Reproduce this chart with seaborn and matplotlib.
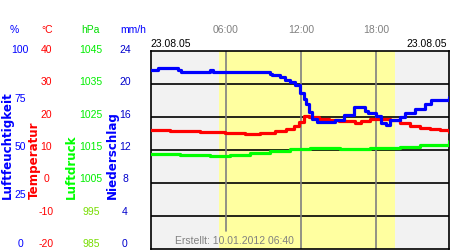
import matplotlib
matplotlib.use("Agg")
import matplotlib.pyplot as plt
import seaborn as sns
import pandas as pd
import numpy as np

sns.set_theme(style="white")
plt.rcParams['font.family'] = ['Liberation Sans', 'DejaVu Sans']

# ---- data (hours of day) ----
hum_t = [0.0, 0.4, 0.6, 2.2, 2.4, 4.7, 5.0, 7.4, 9.5, 9.7, 10.3, 10.7, 11.1, 11.5, 11.9,
         12.2, 12.4, 12.6, 12.9, 13.3, 14.0, 14.7, 15.4, 16.2, 16.9, 17.1, 17.3, 18.0,
         18.4, 18.8, 19.1, 19.9, 20.3, 21.1, 21.9, 22.4, 23.1, 23.8]
hum_v = [90.5, 90.5, 91.5, 90.5, 89.5, 90.5, 89.4, 89.4, 88.4, 87.9, 86.7, 85.4, 84.3,
         82.6, 78.6, 76.0, 73.0, 69.2, 65.6, 64.2, 64.2, 65.2, 67.7, 71.7, 71.7, 69.7,
         68.7, 67.2, 63.6, 62.6, 65.2, 66.7, 68.7, 70.7, 73.2, 75.2, 75.2, 76.8]
tmp_t = [0.0, 1.5, 3.9, 5.9, 7.5, 8.7, 9.9, 10.8, 11.4, 11.8, 12.2, 12.6, 13.4, 14.2,
         15.0, 16.3, 16.8, 17.5, 18.3, 19.1, 19.9, 20.7, 21.5, 22.3, 23.1, 23.8]
tmp_v = [16.0, 15.8, 15.5, 15.2, 15.0, 15.3, 15.8, 16.4, 17.3, 18.5, 20.3, 20.0, 19.4,
         19.1, 18.8, 18.3, 18.8, 19.4, 19.4, 19.1, 18.2, 17.3, 16.7, 16.4, 16.1, 15.5]
prs_t = [0.0, 2.3, 4.7, 6.3, 7.9, 9.5, 11.1, 12.7, 15.1, 17.5, 19.9, 21.5, 23.8]
prs_v = [1013.8, 1013.5, 1013.3, 1013.6, 1014.1, 1014.8, 1015.3, 1015.5, 1015.3,
         1015.5, 1015.8, 1016.4, 1017.6]

hum_ticks = [100, 75, 50, 25, 0]
tmp_ticks = [40, 30, 20, 10, 0, -10, -20]
prs_ticks = [1045, 1035, 1025, 1015, 1005, 995, 985]
pre_ticks = [24, 20, 16, 12, 8, 4, 0]
time_ticks = [6, 12, 18]
time_labels = ["06:00", "12:00", "18:00"]
date_label = "23.08.05"
sunrise, sunset = 5.47, 19.47

# map all to temperature scale (-20..40)
def hum2t(v): return -20 + np.asarray(v) * 0.6
def prs2t(v): return -20 + (np.asarray(v) - 985)

df = pd.concat([
    pd.DataFrame({"t": hum_t, "y": hum2t(hum_v), "s": "hum"}),
    pd.DataFrame({"t": tmp_t, "y": tmp_v, "s": "tmp"}),
    pd.DataFrame({"t": prs_t, "y": prs2t(prs_v), "s": "prs"}),
])

W, H = 450, 250
fig = plt.figure(figsize=(4.5, 2.5), dpi=100)
L, R, T, B = 150.7, 449, 51, 249
ax = fig.add_axes([L / W, 1 - B / H, (R - L) / W, (B - T) / H])
ax.set_facecolor("#F2F2F2")
ax.set_xlim(0, 23.8)
ax.set_ylim(-20, 40)
ax.axvspan(sunrise, sunset, color="#FFFFA0", zorder=0, lw=0)
for yv in [-10, 0, 10, 20, 30]:
    ax.axhline(yv, color="black", lw=1.2, zorder=1)
for i, tv in enumerate(time_ticks):
    ax.axvline(tv, ymin=(0.09 if i == 0 else 0), color="#808080", lw=1.2, zorder=1)

sns.lineplot(data=df, x="t", y="y", hue="s",
             palette={"hum": "#0000FF", "tmp": "#FF0000", "prs": "#00FF00"},
             hue_order=["prs", "tmp", "hum"],
             lw=2.3, legend=False, ax=ax, zorder=3, drawstyle="steps-post")
ax.set_xticks([]); ax.set_yticks([])
ax.set_xlabel(""); ax.set_ylabel("")
for sp in ax.spines.values():
    sp.set_color("black"); sp.set_linewidth(1.2)

fs = 7.5
def px(x, y): return x / W, 1 - y / H

# axis column headers
for x, txt, c in [(14, "%", "#0000FF"), (47, "°C", "#FF0000"), (90, "hPa", "#00DD00"), (133, "mm/h", "#0000FF")]:
    fig.text(*px(x, 30), txt, color=c, fontsize=fs, ha="center", va="center")

LT, LB = 50, 244
def ypos(frac): return LB - frac * (LB - LT)
for i, v in enumerate(hum_ticks):
    fig.text(*px(20, ypos(v / 100)), str(v), color="#0000FF", fontsize=fs, ha="center", va="center")
for v in tmp_ticks:
    fig.text(*px(46.5, ypos((v + 20) / 60)), str(v), color="#FF0000", fontsize=fs, ha="center", va="center")
for v in prs_ticks:
    c = "#00EE00" if v > 1000 else "#77DD00"
    fig.text(*px(91, ypos((v - 985) / 60)), str(v), color=c, fontsize=fs, ha="center", va="center")
for v in pre_ticks:
    fig.text(*px(125, ypos(v / 24)), str(v), color="#0000CC", fontsize=fs, ha="center", va="center")

# rotated titles (x = left edge of the rotated text box)
for x, txt, c in [(0.5, "Luftfeuchtigkeit", "#0000FF"), (28, "Temperatur", "#FF0000"),
                  (65, "Luftdruck", "#00FF00"), (106, "Niederschlag", "#0000FF")]:
    fig.text(*px(x, 199), txt, color=c, fontsize=8.6, fontweight="bold",
             family="DejaVu Sans", rotation=90, ha="left", va="bottom")

for tv, lab in zip(time_ticks, time_labels):
    fig.text(*px(L + tv / 23.8 * (R - L), 30), lab, color="#808080", fontsize=fs, ha="center", va="center")
fig.text(*px(150, 44), date_label, color="black", fontsize=fs, ha="left", va="center")
fig.text(*px(447, 44), date_label, color="black", fontsize=fs, ha="right", va="center")
fig.text(*px(175, 241), "Erstellt: 10.01.2012 06:40", color="#808080", fontsize=fs, ha="left", va="center")

fig.savefig("out.png", dpi=100)
